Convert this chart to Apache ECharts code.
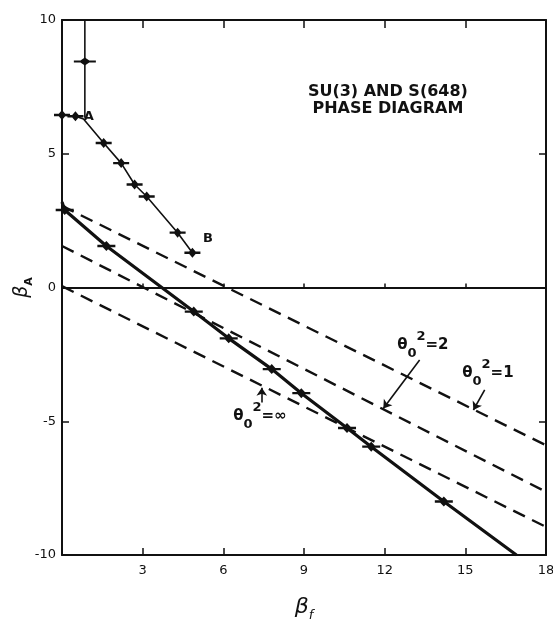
<!DOCTYPE html>
<html>
<head>
<meta charset="utf-8">
<script src="https://cdn.jsdelivr.net/npm/echarts@6.0.0/dist/echarts.min.js"></script>
<style>html,body{margin:0;padding:0;background:#fff}#chart{width:553px;height:632px}</style>
</head>
<body>
<div id="chart"></div>
<script>
// ---- data ----
const xTickValues = [0, 3, 6, 9, 12, 15, 18];
const yTickValues = [-10, -5, 0, 5, 10];

// solid first-order line (bulk transition), measured points with error bars
const transitionStart = [0, 3.2];
const transitionPts = [[0.1, 2.9], [1.65, 1.55], [4.9, -0.9], [6.2, -1.9], [7.8, -3.05], [8.9, -3.95], [10.6, -5.25], [11.5, -5.95], [14.2, -8.0]];
const transitionEnd = [16.9, -10];

// upper line A-B
const upperLine = [[0, 6.45], [0.5, 6.4], [0.8, 6.3], [1.55, 5.4], [2.2, 4.65], [2.7, 3.85], [3.15, 3.4], [4.3, 2.05], [4.85, 1.3]];
const upperPts = [[0, 6.45], [0.5, 6.4], [1.55, 5.4], [2.2, 4.65], [2.7, 3.85], [3.15, 3.4], [4.3, 2.05], [4.85, 1.3]];

// vertical line above A
const verticalLine = [[0.85, 10], [0.85, 6.35]];
const verticalPts = [[0.85, 8.45]];

// dashed theoretical lines
const dashedTheta1 = [[0, 3.05], [18, -5.9]];
const dashedTheta2 = [[0, 1.55], [18, -7.64]];
const dashedThetaInf = [[0, 0.05], [18, -8.95]];

// annotation leaders (from, to)
const leaderTheta2 = [[13.3, -2.71], [11.95, -4.52]];
const leaderTheta1 = [[15.72, -3.83], [15.3, -4.58]];
const leaderThetaInf = [[7.43, -4.3], [7.43, -3.75]];

// text annotations
const titleLines = ['SU(3) AND S(648)', 'PHASE DIAGRAM'];
const titleAt = [12.12, 7.0];
const labelA = {text: 'A', at: [1.0, 6.4]};
const labelB = {text: 'B', at: [5.43, 1.81]};
const thetaLabels = [
  {val: '2', at: [13.42, -2.15]},
  {val: '1', at: [15.84, -3.2]},
  {val: '∞', at: [7.36, -4.8]}
];

// ---- chart ----
const ink = '#111';
const errSym = 'path://M0,3.8 L6,3.8 L10,0 L14,3.8 L20,3.8 L20,6.2 L14,6.2 L10,10 L6,6.2 L0,6.2 Z';
const fontFam = 'DejaVu Sans';

const chart = echarts.init(document.getElementById('chart'), null, {renderer: 'canvas'});

const thetaRich = {
  t: {fontSize: 15, fontFamily: fontFam, fontWeight: 'bold', color: ink, lineHeight: 30, verticalAlign: 'middle'},
  sub: {fontSize: 13, fontFamily: fontFam, fontWeight: 'bold', color: ink, lineHeight: 13, verticalAlign: 'bottom'},
  sup: {fontSize: 13, fontFamily: fontFam, fontWeight: 'bold', color: ink, lineHeight: 13, verticalAlign: 'top'}
};

function lineSeries(data, style, extra) {
  return Object.assign({
    type: 'line', data: data, showSymbol: false, symbol: 'none', silent: true,
    lineStyle: Object.assign({color: ink, opacity: 1}, style), z: 3
  }, extra || {});
}
function leader(pair) {
  return {
    type: 'line', data: [], silent: true,
    markLine: {
      silent: true, symbol: ['none', 'arrow'], symbolSize: 8,
      label: {show: false},
      lineStyle: {color: ink, width: 1.6, type: 'solid', opacity: 1},
      itemStyle: {color: ink},
      data: [[{coord: pair[0]}, {coord: pair[1]}]]
    }
  };
}
function textPoint(at, formatter, rich) {
  return {
    type: 'scatter', silent: true, symbolSize: 0, z: 5,
    data: [at],
    itemStyle: {opacity: 1, color: ink},
    label: {show: true, position: 'inside', formatter: formatter, rich: rich, color: ink, opacity: 1}
  };
}
function markers(data, size) {
  return {type: 'scatter', data: data, symbol: errSym, symbolSize: size,
    itemStyle: {color: ink, opacity: 1}, silent: true, z: 4};
}

const series = [
  lineSeries(dashedTheta1, {width: 2.4, type: [13, 8]}),
  lineSeries(dashedTheta2, {width: 2.4, type: [13, 8]}),
  lineSeries(dashedThetaInf, {width: 2.4, type: [13, 8]}),
  lineSeries([transitionStart].concat(transitionPts, [transitionEnd]), {width: 3.2}),
  lineSeries(upperLine, {width: 1.6}),
  lineSeries(verticalLine, {width: 1.6}),
  markers(transitionPts, [18, 10]),
  markers(upperPts, [16, 10]),
  markers(verticalPts, [22, 8]),
  leader(leaderTheta2),
  leader(leaderTheta1),
  leader(leaderThetaInf),
  textPoint(titleAt, '{h|' + titleLines[0] + '}\n{h|' + titleLines[1] + '}',
    {h: {fontSize: 16, fontFamily: fontFam, fontWeight: 'bold', color: ink, lineHeight: 17, align: 'center'}}),
  textPoint(labelA.at, '{a|' + labelA.text + '}', {a: {fontSize: 13, fontFamily: fontFam, fontWeight: 'bold', color: ink}}),
  textPoint(labelB.at, '{a|' + labelB.text + '}', {a: {fontSize: 13, fontFamily: fontFam, fontWeight: 'bold', color: ink}})
];
thetaLabels.forEach(function (l) {
  series.push(textPoint(l.at, '{t|θ}{sub|0}{sup|2}{t|=' + l.val + '}', thetaRich));
});

const axisLineStyle = {color: ink, width: 2};
const tickStyle = {color: ink, width: 1.5};

const option = {
  animation: false,
  backgroundColor: '#fff',
  grid: {left: 62, right: 7, top: 20, bottom: 77, outerBoundsMode: 'none', containLabel: false},
  xAxis: [
    {
      type: 'value', position: 'bottom', min: 0, max: 18, interval: 3,
      axisLine: {onZero: false, lineStyle: axisLineStyle},
      axisTick: {inside: true, length: 7, lineStyle: tickStyle},
      axisLabel: {
        margin: 9, fontSize: 13, fontFamily: fontFam, color: ink,
        formatter: function (v) { return xTickValues.indexOf(v) > 0 ? String(v) : ''; }
      },
      splitLine: {show: false},
      name: '{b|β}{s|f}', nameLocation: 'middle', nameGap: 37, nameMoveOverlap: false,
      nameTextStyle: {rich: {
        b: {fontSize: 22, fontStyle: 'italic', fontFamily: fontFam, color: ink, verticalAlign: 'middle', lineHeight: 30},
        s: {fontSize: 13, fontStyle: 'italic', fontFamily: fontFam, color: ink, verticalAlign: 'bottom', lineHeight: 14}
      }}
    },
    {
      type: 'value', position: 'top', min: 0, max: 18, interval: 3,
      axisLine: {onZero: false, lineStyle: axisLineStyle},
      axisTick: {inside: true, length: 8, lineStyle: tickStyle},
      axisLabel: {show: false}, splitLine: {show: false}
    },
    {
      type: 'value', position: 'bottom', min: 0, max: 18, interval: 3,
      axisLine: {onZero: true, onZeroAxisIndex: 0, lineStyle: axisLineStyle},
      axisTick: {inside: true, length: 4, lineStyle: tickStyle},
      axisLabel: {show: false}, splitLine: {show: false}
    }
  ],
  yAxis: [
    {
      type: 'value', position: 'left', min: -10, max: 10, interval: 5,
      axisLine: {onZero: false, lineStyle: axisLineStyle},
      axisTick: {inside: true, length: 7, lineStyle: tickStyle},
      axisLabel: {
        margin: 6, fontSize: 13, fontFamily: fontFam, color: ink,
        formatter: function (v) { return yTickValues.indexOf(v) >= 0 ? String(v) : ''; }
      },
      splitLine: {show: false},
      name: '{b|β}{s|A}', nameLocation: 'middle', nameGap: 27, nameRotate: 90, nameMoveOverlap: false,
      nameTextStyle: {rich: {
        b: {fontSize: 19, fontStyle: 'italic', fontFamily: fontFam, color: ink, verticalAlign: 'middle', lineHeight: 26},
        s: {fontSize: 11, fontFamily: fontFam, fontWeight: 'bold', color: ink, verticalAlign: 'bottom', lineHeight: 12}
      }}
    },
    {
      type: 'value', position: 'right', min: -10, max: 10, interval: 5,
      axisLine: {onZero: false, lineStyle: axisLineStyle},
      axisTick: {inside: true, length: 7, lineStyle: tickStyle},
      axisLabel: {show: false}, splitLine: {show: false}
    }
  ],
  series: series
};
chart.setOption(option);
</script>
</body>
</html>
